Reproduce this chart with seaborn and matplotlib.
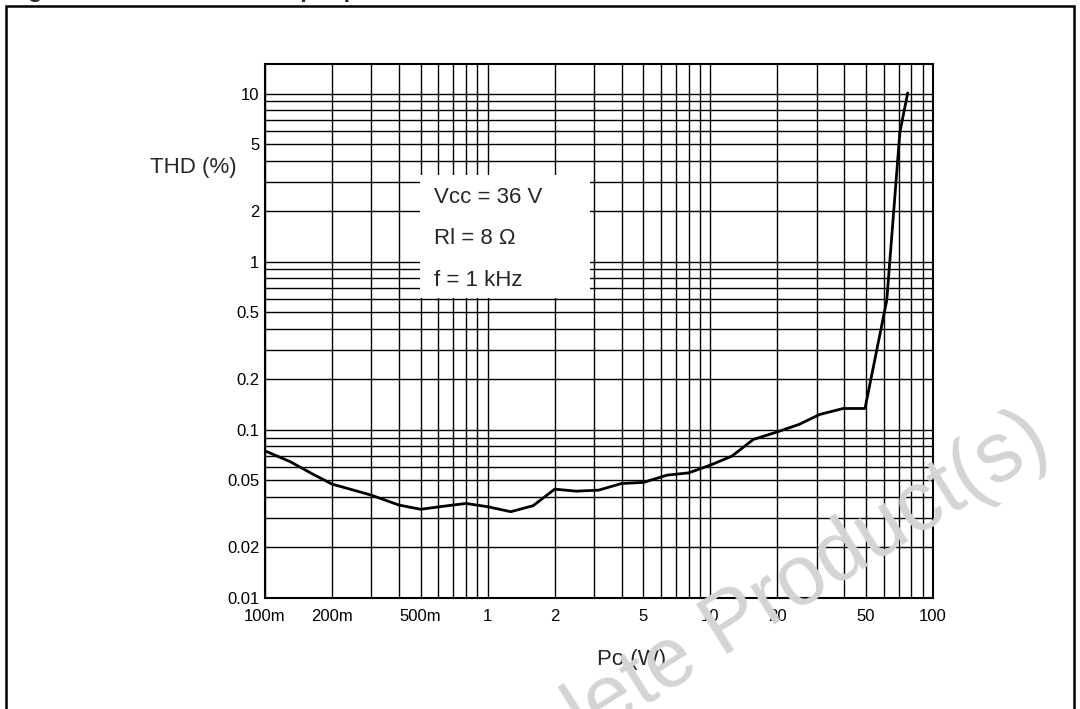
import numpy as np
import pandas as pd
import matplotlib.pyplot as plt
import matplotlib.ticker as mticker
from matplotlib.patches import Rectangle
import seaborn as sns

sns.set_theme(style="white")
plt.rcParams['font.family'] = ['Liberation Sans', 'DejaVu Sans']

# THD vs output power
po_w = [0.1, 0.13, 0.165, 0.2, 0.3, 0.4, 0.5, 0.64, 0.8, 1.0, 1.27, 1.6, 2.0,
        2.5, 3.15, 4.0, 5.0, 6.4, 8.0, 10.0, 12.5, 15.6, 20.0, 25.0, 31.0,
        39.5, 49.5, 62.0, 71.0, 77.0]
thd_pct = [0.075, 0.0646, 0.0543, 0.0476, 0.0409, 0.0357, 0.0337, 0.0352,
           0.0365, 0.0349, 0.0326, 0.0354, 0.0444, 0.0432, 0.0438, 0.048,
           0.0487, 0.0538, 0.0555, 0.0617, 0.0698, 0.0877, 0.0973, 0.1077,
           0.1235, 0.134, 0.134, 0.59, 5.9, 10.1]

x_ticks = [0.1, 0.2, 0.5, 1, 2, 5, 10, 20, 50, 100]
x_labels = ['100m', '200m', '500m', '1', '2', '5', '10', '20', '50', '100']
y_ticks = [0.01, 0.02, 0.05, 0.1, 0.2, 0.5, 1, 2, 5, 10]
y_labels = ['0.01', '0.02', '0.05', '0.1', '0.2', '0.5', '1', '2', '5', '10']

conditions = ['Vcc = 36 V', 'Rl = 8 \u03a9', 'f = 1 kHz']

df = pd.DataFrame({'Po': po_w, 'THD': thd_pct})

fig = plt.figure(figsize=(10.8, 7.09), dpi=100)
ax = fig.add_axes([265 / 1080, 1 - 598 / 709, 668 / 1080, 534 / 709])

sns.lineplot(data=df, x='Po', y='THD', ax=ax, color='black', linewidth=2.0,
             sort=False, zorder=5)

ax.set_xscale('log')
ax.set_yscale('log')
ax.set_xlim(0.1, 100)
ax.set_ylim(0.01, 15)

ax.xaxis.set_major_locator(mticker.FixedLocator(x_ticks))
ax.xaxis.set_major_formatter(mticker.FixedFormatter(x_labels))
ax.xaxis.set_minor_locator(mticker.LogLocator(base=10, subs=np.arange(1, 10)))
ax.xaxis.set_minor_formatter(mticker.NullFormatter())
ax.yaxis.set_major_locator(mticker.FixedLocator(y_ticks))
ax.yaxis.set_major_formatter(mticker.FixedFormatter(y_labels))
ax.yaxis.set_minor_locator(mticker.LogLocator(base=10, subs=np.arange(1, 10)))
ax.yaxis.set_minor_formatter(mticker.NullFormatter())

ax.grid(which='both', color='black', linewidth=1.0)
ax.tick_params(which='both', length=0, colors='black', labelsize=12)
ax.tick_params(axis='x', pad=8)
ax.tick_params(axis='y', pad=4)
for s in ax.spines.values():
    s.set_color('black')
    s.set_linewidth(1.5)
ax.set_xlabel('')
ax.set_ylabel('')

# white box with test conditions over the grid
ax.add_patch(Rectangle((0.232, 0.562), 0.2545, 0.23, transform=ax.transAxes,
                       facecolor='white', edgecolor='none', zorder=3))
for i, t in enumerate(conditions):
    ax.text(0.253, 0.75 - i * 0.0775, t, transform=ax.transAxes, fontsize=16,
            va='center', ha='left', zorder=4)

fig.text(193 / 1080, 1 - 168 / 709, 'THD (%)', fontsize=16, ha='center', va='center')
fig.text(632 / 1080, 1 - 660 / 709, 'Po (W)', fontsize=16, ha='center', va='center')

# page frame and the cut-off caption above it
fig.patches.append(Rectangle((6 / 1080, -0.1), 1068 / 1080, 1.1 - 6 / 709,
                             transform=fig.transFigure, fill=False,
                             edgecolor='black', linewidth=1.8))
fig.text(7 / 1080, 1 + 3 / 709, 'Figure 5. Distortion vs output power',
         fontsize=17, fontweight='bold', ha='left', va='baseline')

# watermark
fig.text(414 / 1080, 1 - 850 / 709, 'Obsolete Product(s)', fontsize=61,
         color='#d4d4d4', rotation=32, rotation_mode='anchor',
         ha='left', va='baseline', zorder=10)

plt.savefig('out.png', dpi=100)
